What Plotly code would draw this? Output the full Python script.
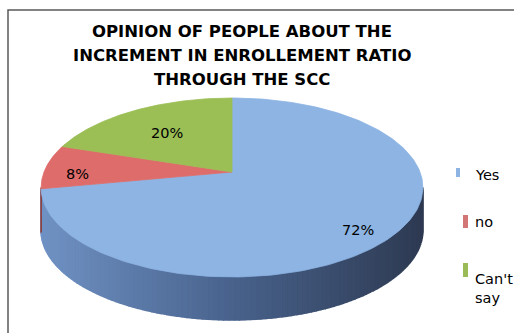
import numpy as np
import plotly.graph_objects as go

# Survey shares
labels = ["Yes", "no", "Can't say"]
shares = [72, 8, 20]
legend_text = ["Yes", "no", "Can't<br>say"]
title_lines = [
    "OPINION OF PEOPLE ABOUT THE",
    "INCREMENT IN ENROLLEMENT RATIO",
    "THROUGH THE SCC",
]

top_colors = ["#8DB4E3", "#DE6C6A", "#9BBE55"]
side_dark = ["#4A6288", "#8E3E3C", "#5F7A2E"]
legend_colors = ["#8DB4E3", "#D27775", "#9BBB59"]

W, H = 514, 333
FONT = "DejaVu Sans"

# 3-D pie geometry (pixel space), simple perspective projection of a disc
CX, CY = 232.0, 172.0
R, S, K = 188.0, 86.8, 0.173
DEPTH = 43.0


def proj(theta_deg, drop=0.0):
    t = np.radians(theta_deg)
    X, Y = np.sin(t), np.cos(t)
    d = 1 + K * Y
    return CX + R * X / d, CY - S * Y / d + drop


def mix(c1, c2, f):
    return tuple(int(round(a + (b - a) * f)) for a, b in zip(c1, c2))


total = float(sum(shares))
bounds = np.concatenate([[0.0], np.cumsum(shares) / total * 360.0])

fig = go.Figure()

# visible side wall (front half of the disc)
th_right = np.degrees(np.arccos(-K))
th_left = 360.0 - th_right
x_left, _ = proj(th_left)
x_right, _ = proj(th_right)
light = (112, 146, 196)
mid = (72, 98, 140)
dark = (46, 58, 82)

# base wall underneath the shaded strips
arc_all = np.linspace(th_right, th_left, 200)
bx_t, by_t = proj(arc_all)
bx_b, by_b = proj(arc_all[::-1], DEPTH)
fig.add_trace(go.Scatter(
    x=np.concatenate([bx_t, bx_b]), y=np.concatenate([by_t, by_b]),
    fill="toself", fillcolor="rgb(70,94,134)", mode="lines",
    line=dict(width=0), hoverinfo="skip", showlegend=False,
))

edges = np.linspace(th_right, th_left, 120)
for a0, a1 in zip(edges[:-1], edges[1:]):
    am = 0.5 * (a0 + a1)
    idx = int(np.searchsorted(bounds, am, side="right") - 1)
    xm, _ = proj(am)
    f = (xm - x_left) / (x_right - x_left)
    if idx == 0:
        if f < 0.5:
            col = mix(light, mid, f / 0.5)
        else:
            col = mix(mid, dark, (f - 0.5) / 0.5)
        c = "rgb(%d,%d,%d)" % col
    else:
        c = side_dark[idx]
    arc = np.linspace(a0, a1, 4)
    xs_t, ys_t = proj(arc)
    xs_b, ys_b = proj(arc[::-1], DEPTH)
    fig.add_trace(go.Scatter(
        x=np.concatenate([xs_t, xs_b]), y=np.concatenate([ys_t, ys_b]),
        fill="toself", fillcolor=c, mode="lines",
        line=dict(color=c, width=1.6), hoverinfo="skip", showlegend=False,
    ))

# top face slices
for i, lab in enumerate(labels):
    arc = np.linspace(bounds[i], bounds[i + 1], 200)
    xs, ys = proj(arc)
    fig.add_trace(go.Scatter(
        x=np.concatenate([[CX], xs, [CX]]), y=np.concatenate([[CY], ys, [CY]]),
        fill="toself", fillcolor=top_colors[i], mode="lines",
        line=dict(color=top_colors[i], width=0.8), name=lab,
        hoverinfo="name", showlegend=False,
    ))

# percentage labels
label_pos = [(358, 230), (77, 174), (167, 133)]
annotations = []
for (lx, ly), v in zip(label_pos, shares):
    annotations.append(dict(
        x=lx, y=ly, xref="x", yref="y", text=f"{v}%", showarrow=False,
        font=dict(family=FONT, size=14.5, color="#000000"),
        xanchor="center", yanchor="middle",
    ))

# title
for j, line in enumerate(title_lines):
    annotations.append(dict(
        x=242, y=31 + 24 * j, xref="x", yref="y", text=f"<b>{line}</b>",
        showarrow=False, font=dict(family=FONT, size=16.5, color="#000000"),
        xanchor="center", yanchor="middle",
    ))

# legend
shapes = [dict(type="rect", x0=8, y0=10, x1=W + 20, y1=H + 20, xref="x", yref="y",
               line=dict(color="#595959", width=1.5), fillcolor="rgba(0,0,0,0)")]
leg_marks = [(456, 168, 460, 177), (463, 215, 468, 228), (463, 263, 468, 277)]
leg_text_y = [175, 222, 288]
for (x0, y0, x1, y1), ty, txt, c in zip(leg_marks, leg_text_y, legend_text, legend_colors):
    shapes.append(dict(type="rect", x0=x0, y0=y0, x1=x1, y1=y1, xref="x", yref="y",
                       line=dict(width=0), fillcolor=c))
    annotations.append(dict(
        x=473, y=ty, xref="x", yref="y", text=txt, showarrow=False, align="left",
        font=dict(family=FONT, size=14.5, color="#000000"),
        xanchor="left", yanchor="middle",
    ))

fig.update_layout(
    width=W, height=H, margin=dict(l=0, r=0, t=0, b=0),
    paper_bgcolor="#FFFFFF", plot_bgcolor="#FFFFFF",
    xaxis=dict(range=[0, W], visible=False, fixedrange=True),
    yaxis=dict(range=[H, 0], visible=False, fixedrange=True),
    annotations=annotations, shapes=shapes, showlegend=False,
)

fig.write_html("out.html")
